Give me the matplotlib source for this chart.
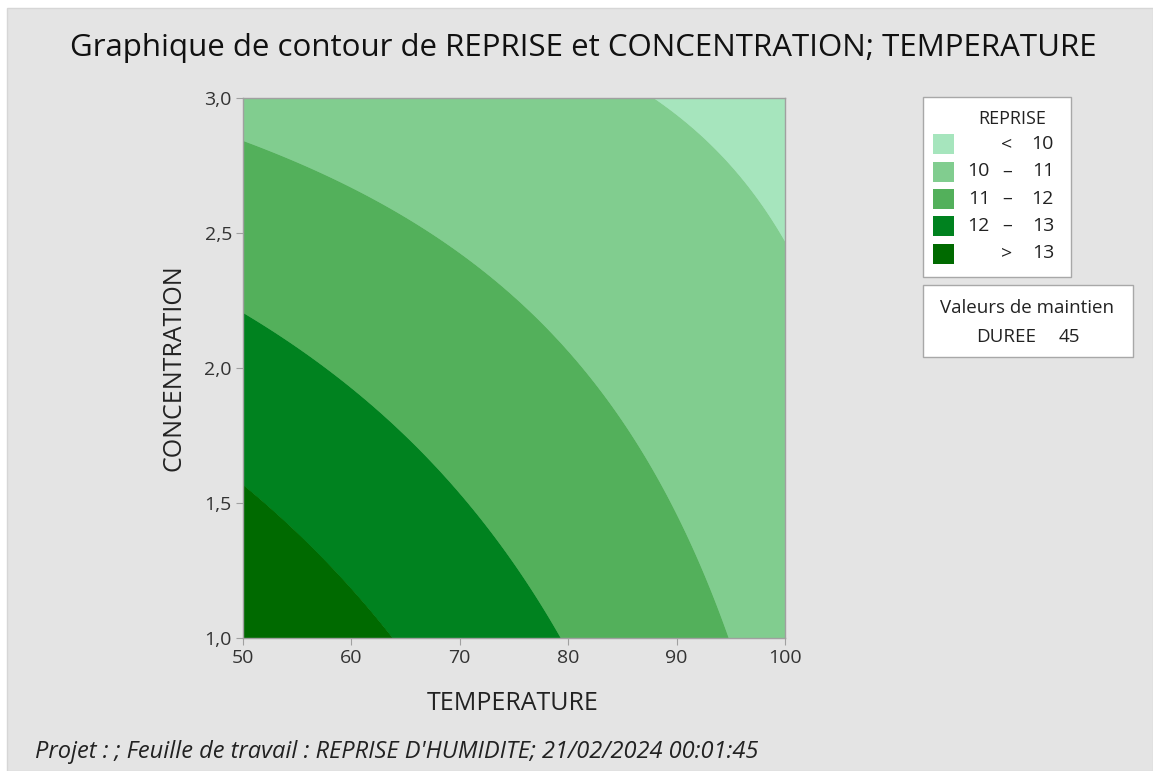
import numpy as np
import matplotlib
matplotlib.use("Agg")
import matplotlib.pyplot as plt
from matplotlib.patches import Rectangle

plt.rcParams['font.family'] = ['Open Sans', 'DejaVu Sans']

# fitted response surface (coded units, DUREE held at 45)
# REPRISE = b0 + bT*t + bC*c + bTC*t*c ; t=(T-50)/50, c=(C-1)/2
coef_names = ["const", "TEMPERATURE", "CONCENTRATION", "TEMPERATURE*CONCENTRATION"]
coef_values = [13.89, -3.226, -3.14, 2.235]

temp_range = [50, 100]
conc_range = [1.0, 3.0]
temp_ticks = [50, 60, 70, 80, 90, 100]
conc_ticks = [1.0, 1.5, 2.0, 2.5, 3.0]

levels = [10, 11, 12, 13]
level_labels = [("", "<", "10"), ("10", "\u2013", "11"), ("11", "\u2013", "12"),
                ("12", "\u2013", "13"), ("", ">", "13")]
colors = ["#a6e5bd", "#81cd8f", "#53b05b", "#00821f", "#006a00"]

hold_name = "DUREE"
hold_value = 45

W, H = 1153, 771
fig = plt.figure(figsize=(W / 100, H / 100), dpi=100, facecolor="white")

def fx(px):
    return px / W

def fy(py):
    return 1 - py / H

# gray background panel
fig.patches.append(Rectangle((fx(7), 0), 1 - fx(7), fy(8), transform=fig.transFigure,
                             facecolor="#e4e4e4", edgecolor="#d6d6d6", lw=1, zorder=-10))

ax = fig.add_axes([fx(243), fy(638), fx(785) - fx(243), fy(98) - fy(638)])

T = np.linspace(temp_range[0], temp_range[1], 500)
C = np.linspace(conc_range[0], conc_range[1], 500)
TT, CC = np.meshgrid(T, C)
t = (TT - 50) / 50
c = (CC - 1) / 2
b0, bt, bc, btc = coef_values
Z = b0 + bt * t + bc * c + btc * t * c

bounds = [Z.min() - 1] + levels + [Z.max() + 1]
# colours go from low (light) to high (dark); drawn twice to hide AA seams
for _ in range(2):
    ax.contourf(TT, CC, Z, levels=bounds, colors=colors, antialiased=True)

ax.set_xlim(temp_range)
ax.set_ylim(conc_range)
ax.set_xticks(temp_ticks)
ax.set_yticks(conc_ticks)
ax.set_xticklabels([str(v) for v in temp_ticks])
ax.set_yticklabels([("%.1f" % v).replace(".", ",") for v in conc_ticks])
ax.tick_params(direction="out", length=5, color="#a0a0a0", labelsize=14,
               labelcolor="#333333", pad=3)
for s in ax.spines.values():
    s.set_color("#a0a0a0")
    s.set_linewidth(1)

fig.text(fx(513), fy(703), "TEMPERATURE", ha="center", va="center", fontsize=18, color="#222222")
fig.text(fx(174), fy(368), "CONCENTRATION", ha="center", va="center", rotation=90,
         fontsize=18, color="#222222")

fig.text(fx(583), fy(48), "Graphique de contour de REPRISE et CONCENTRATION; TEMPERATURE",
         ha="center", va="center", fontsize=22.5, color="#111111")

fig.text(fx(35), fy(752), "Projet : ; Feuille de travail : REPRISE D'HUMIDITE; 21/02/2024 00:01:45",
         ha="left", va="center", fontsize=17, style="italic", color="#222222")

# legend box
fig.patches.append(Rectangle((fx(923), fy(277)), fx(1071) - fx(923), fy(97) - fy(277),
                             transform=fig.transFigure, facecolor="white",
                             edgecolor="#a8a8a8", lw=1))
fig.text(fx(1012), fy(119), "REPRISE", ha="center", va="center", fontsize=13, color="#222222")
row_y = [144, 171.5, 199, 226, 253.5]
for (lo, sym, hi), col, yy in zip(level_labels, colors, row_y):
    fig.patches.append(Rectangle((fx(933), fy(yy + 10)), fx(954) - fx(933), fy(yy - 10) - fy(yy + 10),
                                 transform=fig.transFigure, facecolor=col, edgecolor="none"))
    if lo:
        fig.text(fx(990), fy(yy), lo, ha="right", va="center", fontsize=14, color="#222222")
    fig.text(fx(1007), fy(yy), sym, ha="center", va="center", fontsize=14, color="#222222")
    fig.text(fx(1054), fy(yy), hi, ha="right", va="center", fontsize=14, color="#222222")

# hold values box
fig.patches.append(Rectangle((fx(923), fy(357)), fx(1133) - fx(923), fy(285) - fy(357),
                             transform=fig.transFigure, facecolor="white",
                             edgecolor="#a8a8a8", lw=1))
fig.text(fx(1027), fy(308), "Valeurs de maintien", ha="center", va="center", fontsize=13.5, color="#222222")
fig.text(fx(976), fy(337), hold_name, ha="left", va="center", fontsize=13.5, color="#222222")
fig.text(fx(1080), fy(337), str(hold_value), ha="right", va="center", fontsize=13.5, color="#222222")

fig.savefig("out.png", dpi=100, facecolor=fig.get_facecolor())
